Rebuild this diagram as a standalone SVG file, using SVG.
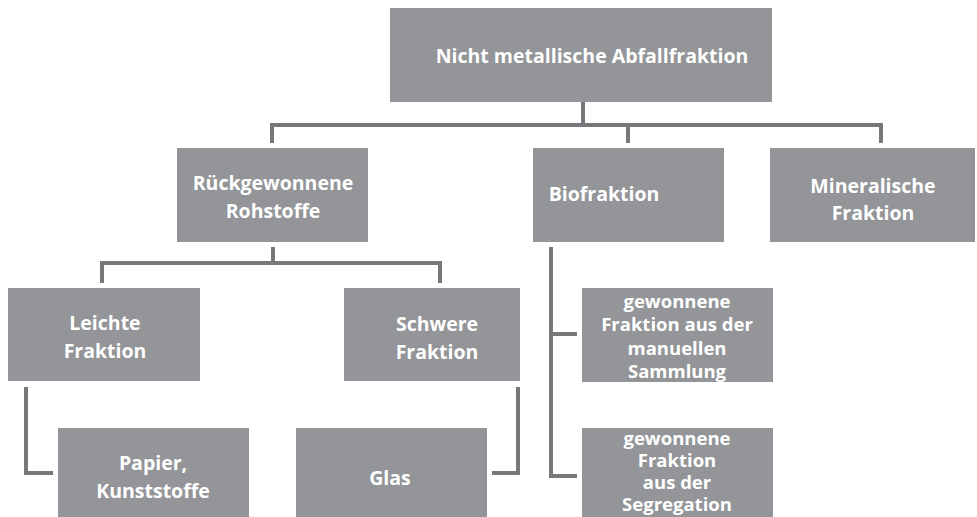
<svg xmlns="http://www.w3.org/2000/svg" width="977" height="517" viewBox="0 0 977 517">
<style>
.box{fill:#939598;}
.t{font-family:"Open Sans","Liberation Sans",sans-serif;font-weight:bold;font-size:19.5px;fill:#ffffff;text-anchor:middle;dominant-baseline:central;}
.s{font-size:18.5px;}
.c{fill:none;stroke:#77787b;stroke-width:4;}
</style>
<rect width="977" height="517" fill="#ffffff"/>
<g id="connectors">
<path class="c" d="M583,102 V125"/>
<path class="c" d="M272,143 V125 H881 V143"/>
<path class="c" d="M628,125 V143"/>
<path class="c" d="M273,247 V263"/>
<path class="c" d="M102,283 V263 H440 V283"/>
<path class="c" d="M26,387 V473 H53"/>
<path class="c" d="M518,387 V473 H492"/>
<path class="c" d="M551,247 V476 H577"/>
<path class="c" d="M551,334 H577"/>
</g>
<g id="n-top"><rect class="box" x="390" y="8" width="382" height="94"/><text class="t" x="592" y="55">Nicht metallische Abfallfraktion</text></g>
<g id="n-rueck"><rect class="box" x="177" y="148" width="191" height="94"/><text class="t" x="273" y="182">Rückgewonnene</text><text class="t" x="273" y="210">Rohstoffe</text></g>
<g id="n-bio"><rect class="box" x="533" y="148" width="191" height="94"/><text class="t" x="604" y="193">Biofraktion</text></g>
<g id="n-mineral"><rect class="box" x="770" y="148" width="205" height="94"/><text class="t" x="873" y="185">Mineralische</text><text class="t" x="873" y="212">Fraktion</text></g>
<g id="n-leicht"><rect class="box" x="8" y="288" width="192" height="93"/><text class="t" x="105" y="322">Leichte</text><text class="t" x="105" y="350">Fraktion</text></g>
<g id="n-schwer"><rect class="box" x="344" y="288" width="176" height="93"/><text class="t" x="437" y="323">Schwere</text><text class="t" x="437" y="351">Fraktion</text></g>
<g id="n-papier"><rect class="box" x="58" y="428" width="191" height="89"/><text class="t" x="153" y="462">Papier,</text><text class="t" x="153" y="490">Kunststoffe</text></g>
<g id="n-glas"><rect class="box" x="296" y="428" width="191" height="89"/><text class="t" x="390" y="477">Glas</text></g>
<g id="n-manuell"><rect class="box" x="582" y="288" width="191" height="94"/><text class="t s" x="677" y="300">gewonnene</text><text class="t s" x="677" y="323">Fraktion aus der</text><text class="t s" x="677" y="347">manuellen</text><text class="t s" x="677" y="370">Sammlung</text></g>
<g id="n-segreg"><rect class="box" x="582" y="428" width="191" height="89"/><text class="t s" x="677" y="437">gewonnene</text><text class="t s" x="677" y="459">Fraktion</text><text class="t s" x="677" y="481">aus der</text><text class="t s" x="677" y="503">Segregation</text></g>
</svg>
